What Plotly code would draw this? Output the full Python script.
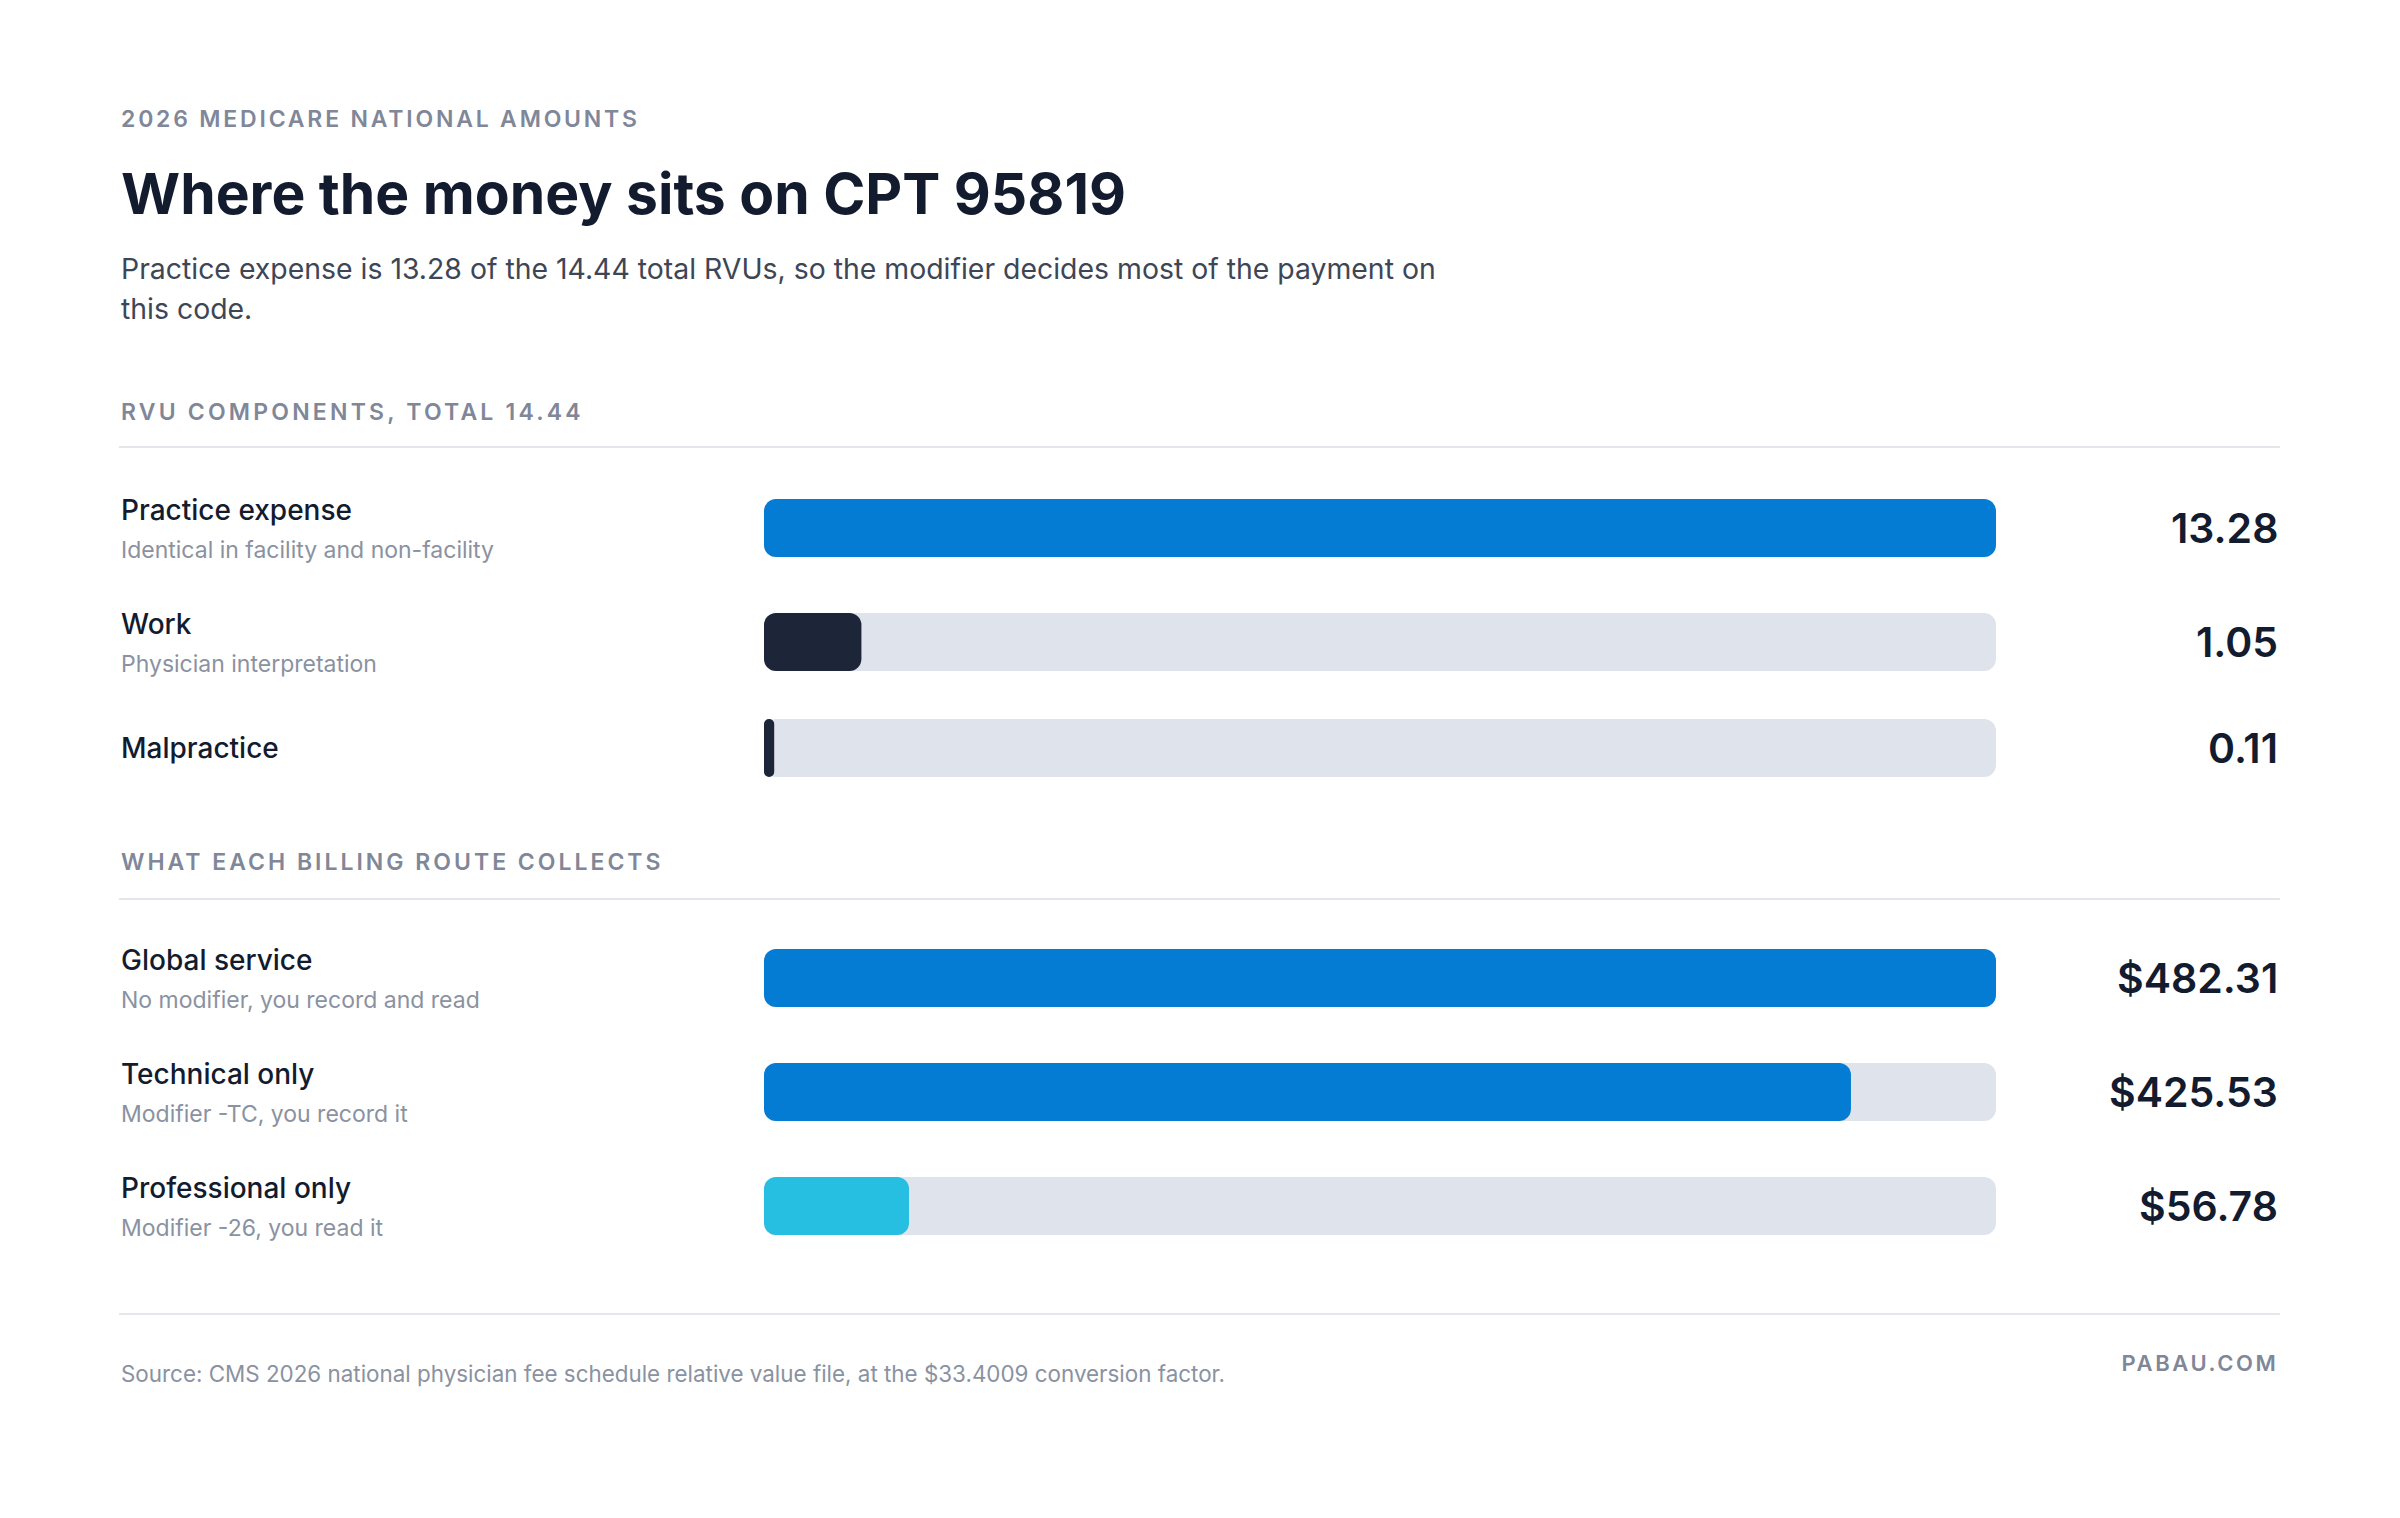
import json

import plotly.graph_objects as go

W, H = 2400, 1518

# chart data
RVU_LABELS = ["Practice expense", "Work", "Malpractice"]
RVU_NOTES = ["Identical in facility and non-facility", "Physician interpretation", ""]
RVU_VALUES = [13.28, 1.05, 0.11]
RVU_TOTAL = 14.44

ROUTE_LABELS = ["Global service", "Technical only", "Professional only"]
ROUTE_NOTES = [
    "No modifier, you record and read",
    "Modifier -TC, you record it",
    "Modifier -26, you read it",
]
ROUTE_VALUES = [482.31, 425.53, 56.78]
CONVERSION_FACTOR = 33.4009

# styling
FONT = "Inter"
INK = "#131b2e"
BODY = "#3e4656"
GREY = "#8a92a1"
HEAD_GREY = "#7f8798"
RULE = "#e3e6ec"
TRACK = "#dfe3ec"
BLUE = "#057cd3"
NAVY = "#1c2638"
CYAN = "#26bee1"
RVU_COLORS = [BLUE, NAVY, NAVY]
ROUTE_COLORS = [BLUE, BLUE, CYAN]

LEFT = 119
RIGHT = 2280
BAR_X0 = 764
BAR_X1 = 1996
BAR_H = 58
RADIUS = 12


def row_centers(first, notes):
    ys = []
    y = first
    for i, note in enumerate(notes):
        if i:
            y += 57 + (57 if note else 49)
        ys.append(y)
    return ys


rvu_y = row_centers(528, RVU_NOTES)
route_y = row_centers(978, ROUTE_NOTES)

fig = go.Figure()


def add_bars(values, ys, colors, xaxis):
    zero = [0] * len(ys)
    common = dict(orientation="h", width=BAR_H, base=zero, xaxis=xaxis, yaxis="y",
                  hoverinfo="skip", showlegend=False)
    # grey track behind each bar, as long as the biggest value
    fig.add_trace(go.Bar(x=[max(values)] * len(ys), y=ys,
                         marker=dict(color=TRACK, cornerradius=RADIUS, line_width=0), **common))
    fig.add_trace(go.Bar(x=values, y=ys,
                         marker=dict(color=colors, cornerradius=RADIUS, line_width=0), **common))


add_bars(RVU_VALUES, rvu_y, RVU_COLORS, "x")
add_bars(ROUTE_VALUES, route_y, ROUTE_COLORS, "x2")

ann = []
tracked = {}


def text(x, y, s, size, color, weight=400, anchor="left", spacing=None):
    ann.append(dict(
        x=x / W, y=y, xref="paper", yref="y", text=s, showarrow=False,
        xanchor=anchor, yanchor="middle", align=anchor,
        font=dict(family=FONT, size=size, color=color, weight=weight),
    ))
    if spacing:
        tracked[s] = spacing


kicker = "2026 MEDICARE NATIONAL AMOUNTS"
text(LEFT, 119, kicker, 23, HEAD_GREY, 600, spacing="2.8px")
text(LEFT, 193, "Where the money sits on CPT 95819", 57, INK, 700)
text(LEFT, 268,
     f"Practice expense is {RVU_VALUES[0]:.2f} of the {RVU_TOTAL:.2f} total RVUs, "
     "so the modifier decides most of the payment on", 28.4, BODY)
text(LEFT, 308, "this code.", 28.4, BODY)

text(LEFT, 412, f"RVU COMPONENTS, TOTAL {RVU_TOTAL:.2f}", 23, HEAD_GREY, 600, spacing="3.2px")
text(LEFT, 862, "WHAT EACH BILLING ROUTE COLLECTS", 23, HEAD_GREY, 600, spacing="3.0px")


def row_text(labels, notes, ys, values, fmt):
    for lab, note, y, v in zip(labels, notes, ys, values):
        if note:
            text(LEFT, y - 18, lab, 28, INK, 500)
            text(LEFT, y + 22, note, 23, GREY)
        else:
            text(LEFT, y, lab, 28, INK, 500)
        text(RIGHT, y, fmt(v), 41, INK, 600, anchor="right")


row_text(RVU_LABELS, RVU_NOTES, rvu_y, RVU_VALUES, lambda v: f"{v:.2f}")
row_text(ROUTE_LABELS, ROUTE_NOTES, route_y, ROUTE_VALUES, lambda v: f"${v:.2f}")

text(LEFT, 1373,
     f"Source: CMS 2026 national physician fee schedule relative value file, "
     f"at the ${CONVERSION_FACTOR:.4f} conversion factor.", 22.4, GREY)
text(RIGHT, 1363, "PABAU.COM", 22, HEAD_GREY, 600, anchor="right", spacing="2.6px")

shapes = [
    dict(type="line", xref="paper", yref="y", x0=LEFT / W, x1=RIGHT / W, y0=y, y1=y,
         line=dict(color=RULE, width=2))
    for y in (447, 899, 1314)
]

dom = [BAR_X0 / W, BAR_X1 / W]
fig.update_layout(
    width=W, height=H,
    margin=dict(l=0, r=0, t=0, b=0),
    paper_bgcolor="white", plot_bgcolor="white",
    barmode="overlay",
    barcornerradius=RADIUS,
    xaxis=dict(domain=dom, range=[0, max(RVU_VALUES)], visible=False, fixedrange=True),
    xaxis2=dict(domain=dom, range=[0, max(ROUTE_VALUES)], visible=False, fixedrange=True,
                overlaying="x", anchor="y"),
    yaxis=dict(domain=[0, 1], range=[H, 0], visible=False, fixedrange=True),
    annotations=ann,
    shapes=shapes,
    showlegend=False,
)

# plotly has no letter-spacing option, so the tracked caps get it from CSS
js = """
document.body.style.margin = '0';
document.body.style.overflow = 'hidden';
var tracked = %s;
function applyTracking() {
  document.querySelectorAll('text.annotation-text').forEach(function (t) {
    var s = tracked[t.textContent];
    if (s) { t.style.letterSpacing = s; }
  });
}
applyTracking();
var gd = document.getElementById('{plot_id}');
if (gd && gd.on) { gd.on('plotly_afterplot', applyTracking); }
setTimeout(applyTracking, 50);
""" % json.dumps(tracked)

fig.write_html("out.html", config={"displayModeBar": False}, post_script=js)
